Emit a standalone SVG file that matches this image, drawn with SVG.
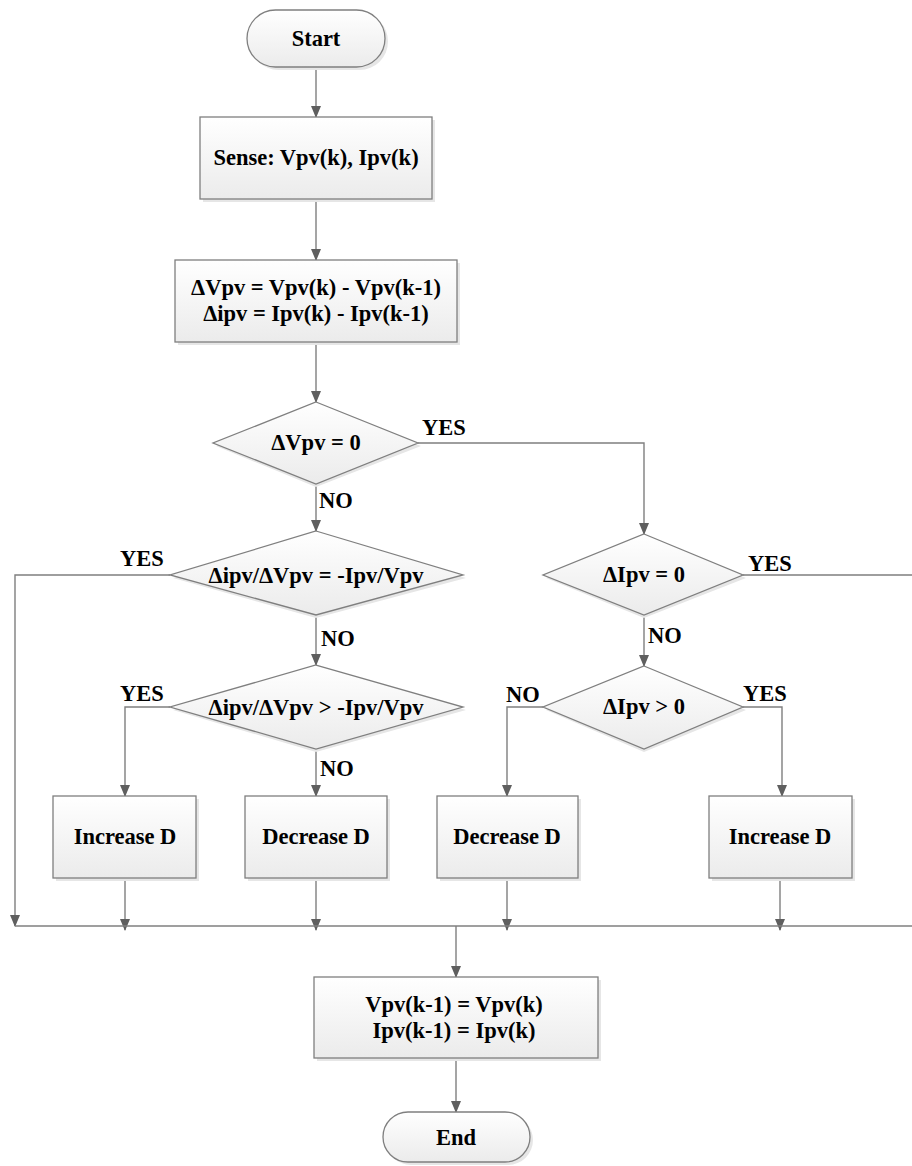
<svg xmlns="http://www.w3.org/2000/svg" width="912" height="1166" viewBox="0 0 912 1166">
<style>
.shape{stroke:#7f7f7f;stroke-width:1.3;fill:url(#g)}
.sh{fill:#e6e6e6;stroke:none}
.t{font-family:"Liberation Serif","Times New Roman","DejaVu Serif",serif;font-weight:bold;font-size:22.5px;fill:#000;text-anchor:middle}
.l{font-family:"Liberation Serif","Times New Roman","DejaVu Serif",serif;font-weight:bold;font-size:22.5px;fill:#000}
.c{fill:none;stroke:#7f7f7f;stroke-width:1.4}
.a{marker-end:url(#ah)}
</style>
<defs>
<linearGradient id="g" x1="0" y1="0" x2="0" y2="1">
<stop offset="0" stop-color="#ffffff"/>
<stop offset="1" stop-color="#ebebeb"/>
</linearGradient>
<marker id="ah" viewBox="0 0 12 10" refX="11" refY="5" markerWidth="12" markerHeight="10" markerUnits="userSpaceOnUse" orient="auto">
<path d="M0,0 L12,5 L0,10 Z" fill="#5f5f5f"/>
</marker>
</defs>
<g id="connectors">
<path class="c a" d="M316,67 V117"/>
<path class="c a" d="M316,199 V260"/>
<path class="c a" d="M316,342 V402"/>
<path class="c a" d="M418,443 H644 V534"/>
<path class="c a" d="M316,484 V531"/>
<path class="c a" d="M170,575 H15 V926"/>
<path class="c a" d="M316,615 V665"/>
<path class="c a" d="M170,707 H125 V796"/>
<path class="c a" d="M316,749 V796"/>
<path class="c a" d="M743,575 H917 V926"/>
<path class="c a" d="M644,615 V666"/>
<path class="c a" d="M543,707 H507 V796"/>
<path class="c a" d="M743,707 H782 V796"/>
<path class="c a" d="M125,878 V930"/>
<path class="c a" d="M316,878 V930"/>
<path class="c a" d="M507,878 V930"/>
<path class="c a" d="M780,878 V930"/>
<path class="c" d="M15,926 H917"/>
<path class="c a" d="M456,926 V977"/>
<path class="c a" d="M456,1058 V1112"/>
<text class="l" x="422" y="435">YES</text>
<text class="l" x="319" y="508">NO</text>
<text class="l" x="120" y="566">YES</text>
<text class="l" x="321" y="646">NO</text>
<text class="l" x="120" y="701">YES</text>
<text class="l" x="320" y="776">NO</text>
<text class="l" x="748" y="571">YES</text>
<text class="l" x="648" y="643">NO</text>
<text class="l" x="506" y="702">NO</text>
<text class="l" x="743" y="701">YES</text>
</g>
<g id="start">
<rect class="sh" x="250" y="13" width="138" height="57" rx="28.5"/>
<rect class="shape" x="247" y="10" width="138" height="57" rx="28.5"/>
<text class="t" x="316" y="46">Start</text>
</g>
<g id="sense">
<rect class="sh" x="203" y="120" width="232" height="82"/>
<rect class="shape" x="200" y="117" width="232" height="82"/>
<text class="t" x="316" y="165">Sense: Vpv(k), Ipv(k)</text>
</g>
<g id="delta">
<rect class="sh" x="178" y="263" width="282" height="82"/>
<rect class="shape" x="175" y="260" width="282" height="82"/>
<text class="t" x="316" y="295">ΔVpv = Vpv(k) - Vpv(k-1)</text>
<text class="t" x="316" y="321">Δipv = Ipv(k) - Ipv(k-1)</text>
</g>
<g id="d1">
<polygon class="sh" points="316,405 421,446 316,487 216,446"/>
<polygon class="shape" points="316,402 418,443 316,484 213,443"/>
<text class="t" x="316" y="450">ΔVpv = 0</text>
</g>
<g id="d2">
<polygon class="sh" points="316,534 466,578 316,618 173,578"/>
<polygon class="shape" points="316,531 463,575 316,615 170,575"/>
<text class="t" x="316" y="583">Δipv/ΔVpv = -Ipv/Vpv</text>
</g>
<g id="d3">
<polygon class="sh" points="316,668 466,710 316,752 173,710"/>
<polygon class="shape" points="316,665 463,707 316,749 170,707"/>
<text class="t" x="316" y="715">Δipv/ΔVpv &gt; -Ipv/Vpv</text>
</g>
<g id="dr1">
<polygon class="sh" points="644,537 746,578 644,618 546,578"/>
<polygon class="shape" points="644,534 743,575 644,615 543,575"/>
<text class="t" x="644" y="582">ΔIpv = 0</text>
</g>
<g id="dr2">
<polygon class="sh" points="644,669 746,710 644,752 546,710"/>
<polygon class="shape" points="644,666 743,707 644,749 543,707"/>
<text class="t" x="644" y="714">ΔIpv &gt; 0</text>
</g>
<g id="inc1">
<rect class="sh" x="56" y="799" width="143" height="82"/>
<rect class="shape" x="53" y="796" width="143" height="82"/>
<text class="t" x="125" y="844">Increase D</text>
</g>
<g id="dec1">
<rect class="sh" x="248" y="799" width="142" height="82"/>
<rect class="shape" x="245" y="796" width="142" height="82"/>
<text class="t" x="316" y="844">Decrease D</text>
</g>
<g id="dec2">
<rect class="sh" x="440" y="799" width="141" height="82"/>
<rect class="shape" x="437" y="796" width="141" height="82"/>
<text class="t" x="507" y="844">Decrease D</text>
</g>
<g id="inc2">
<rect class="sh" x="712" y="799" width="143" height="82"/>
<rect class="shape" x="709" y="796" width="143" height="82"/>
<text class="t" x="780" y="844">Increase D</text>
</g>
<g id="update">
<rect class="sh" x="317" y="980" width="284" height="81"/>
<rect class="shape" x="314" y="977" width="284" height="81"/>
<text class="t" x="454" y="1012">Vpv(k-1) = Vpv(k)</text>
<text class="t" x="454" y="1038">Ipv(k-1) = Ipv(k)</text>
</g>
<g id="end">
<rect class="sh" x="386" y="1115" width="147" height="50" rx="25"/>
<rect class="shape" x="383" y="1112" width="147" height="50" rx="25"/>
<text class="t" x="456" y="1145">End</text>
</g>
</svg>
